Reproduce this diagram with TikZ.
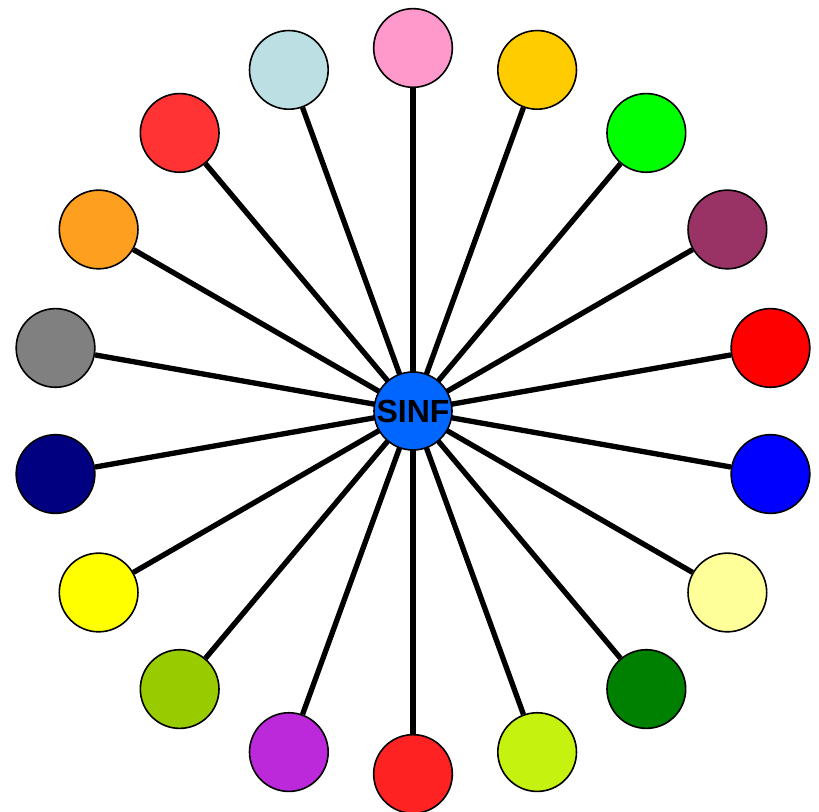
\documentclass[tikz,border=0pt]{standalone}
\usepackage{fontspec}
\setmainfont{Liberation Sans}
\usepackage{xcolor}
\usetikzlibrary{positioning,calc,backgrounds}

\definecolor{cpink}{HTML}{FF99CC}
\definecolor{camber}{HTML}{FFCC00}
\definecolor{clime}{HTML}{00FF00}
\definecolor{cplum}{HTML}{993366}
\definecolor{cred}{HTML}{FF0000}
\definecolor{cblue}{HTML}{0000FF}
\definecolor{ccream}{HTML}{FFFF99}
\definecolor{cgreen}{HTML}{008000}
\definecolor{cyellowgreen}{HTML}{C5F20F}
\definecolor{cscarlet}{HTML}{FF2222}
\definecolor{cviolet}{HTML}{BB29DB}
\definecolor{colive}{HTML}{99CC00}
\definecolor{cyellow}{HTML}{FFFF00}
\definecolor{cnavy}{HTML}{000080}
\definecolor{cgrey}{HTML}{808080}
\definecolor{corange}{HTML}{FF9F1F}
\definecolor{ctomato}{HTML}{FF3333}
\definecolor{cice}{HTML}{BBDFE3}
\definecolor{csinf}{HTML}{0066FF}

\begin{document}
\begin{tikzpicture}[
  x=0.75pt, y=0.75pt,
  hub/.style={circle, draw, line width=1.2pt, minimum size=58.5pt, inner sep=0pt, fill=csinf, font=\bfseries\fontsize{24}{24}\selectfont},
  leaf/.style={circle, draw, line width=1.2pt, minimum size=59pt, inner sep=0pt},
  spoke/.style={line width=4pt},
  ]
  \useasboundingbox (0,0) rectangle (819,812);
  \node[hub] (sinf) at (413,401) {SINF};
  % the 18 leaves, every 20 degrees
  \foreach \ang/\col [count=\i] in {90/cpink, 70/camber, 50/clime, 30/cplum, 10/cred,
      -10/cblue, -30/ccream, -50/cgreen, -70/cyellowgreen, -90/cscarlet,
      -110/cviolet, -130/colive, -150/cyellow, -170/cnavy, 170/cgrey,
      150/corange, 130/ctomato, 110/cice} {
    \node[leaf, fill=\col] (leaf\i) at ($(sinf)+(\ang:363)$) {};
  }
  \begin{scope}[on background layer]
  \foreach \i in {1,...,18} {
    \draw[spoke] (sinf.center) -- (leaf\i);
  }
  \end{scope}
\end{tikzpicture}
\end{document}
